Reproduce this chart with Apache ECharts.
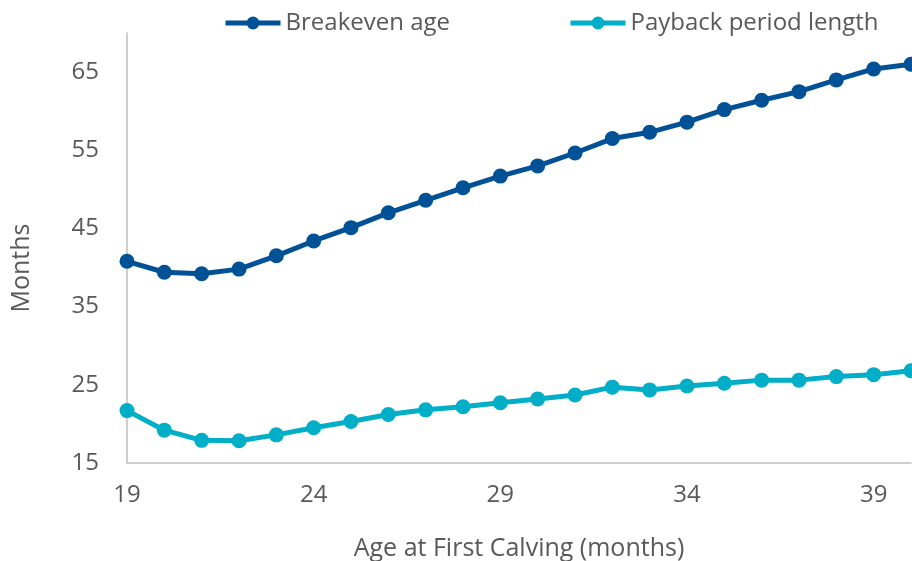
<!DOCTYPE html>
<html>
<head>
<meta charset="utf-8">
<script src="https://cdn.jsdelivr.net/npm/echarts@6/dist/echarts.min.js"></script>
<style>html,body{margin:0;padding:0;background:#fff}#c{width:912px;height:561px}</style>
</head>
<body>
<div id="c"></div>
<script>
const ages = [19,20,21,22,23,24,25,26,27,28,29,30,31,32,33,34,35,36,37,38,39,40];
const breakevenAge = [40.8,39.4,39.2,39.8,41.5,43.4,45.1,47.0,48.6,50.2,51.7,53.0,54.65,56.5,57.3,58.6,60.2,61.4,62.5,64.0,65.4,66.0];
const paybackLength = [21.7,19.2,17.9,17.85,18.6,19.5,20.3,21.2,21.8,22.2,22.7,23.2,23.7,24.7,24.35,24.85,25.2,25.6,25.6,26.05,26.3,26.8];
const seriesNames = ['Breakeven age','Payback period length'];
const xTitle = 'Age at First Calving (months)';
const yTitle = 'Months';

const font = 'Open Sans';
const textColor = '#595959';
const chart = echarts.init(document.getElementById('c'));
const mk = (name, vals, color) => ({
  name, type: 'line', data: ages.map((a,i)=>[a, vals[i]]),
  symbol: 'circle', symbolSize: 15, showSymbol: true,
  lineStyle: {width: 5, color}, itemStyle: {color},
  clip: false, animation: false
});
chart.setOption({
  animation: false,
  textStyle: {fontFamily: font},
  legend: {
    top: 6, left: 218, itemWidth: 55, itemHeight: 16, itemGap: 118,
    lineStyle: {width: 5},
    textStyle: {fontFamily: font, fontSize: 24, color: textColor},
    data: seriesNames
  },
  grid: {left: 127, right: 1, top: 33, bottom: 98, containLabel: false, outerBoundsMode: 'none'},
  xAxis: {
    type: 'value', min: 19, max: 40, interval: 5,
    name: xTitle, nameLocation: 'middle', nameGap: 73,
    nameTextStyle: {fontFamily: font, fontSize: 25, color: textColor},
    axisLine: {show: true, onZero: false, lineStyle: {color: '#BFBFBF', width: 1.5}},
    axisTick: {show: false}, splitLine: {show: false},
    axisLabel: {fontFamily: font, fontSize: 24, color: textColor, margin: 20, showMaxLabel: false}
  },
  yAxis: {
    type: 'value', min: 15, max: 70, interval: 10,
    axisLine: {show: true, lineStyle: {color: '#BFBFBF', width: 1.5}},
    axisTick: {show: false}, splitLine: {show: false},
    axisLabel: {fontFamily: font, fontSize: 24, color: textColor, margin: 28, showMaxLabel: false}
  },
  graphic: [{
    type: 'text', x: 22, y: 268, rotation: Math.PI / 2,
    style: {text: yTitle, font: '25px "Open Sans"', fill: textColor, align: 'center', verticalAlign: 'middle'}
  }],
  series: [mk(seriesNames[0], breakevenAge, '#005195'), mk(seriesNames[1], paybackLength, '#00AEC7')]
});
</script>
</body>
</html>
